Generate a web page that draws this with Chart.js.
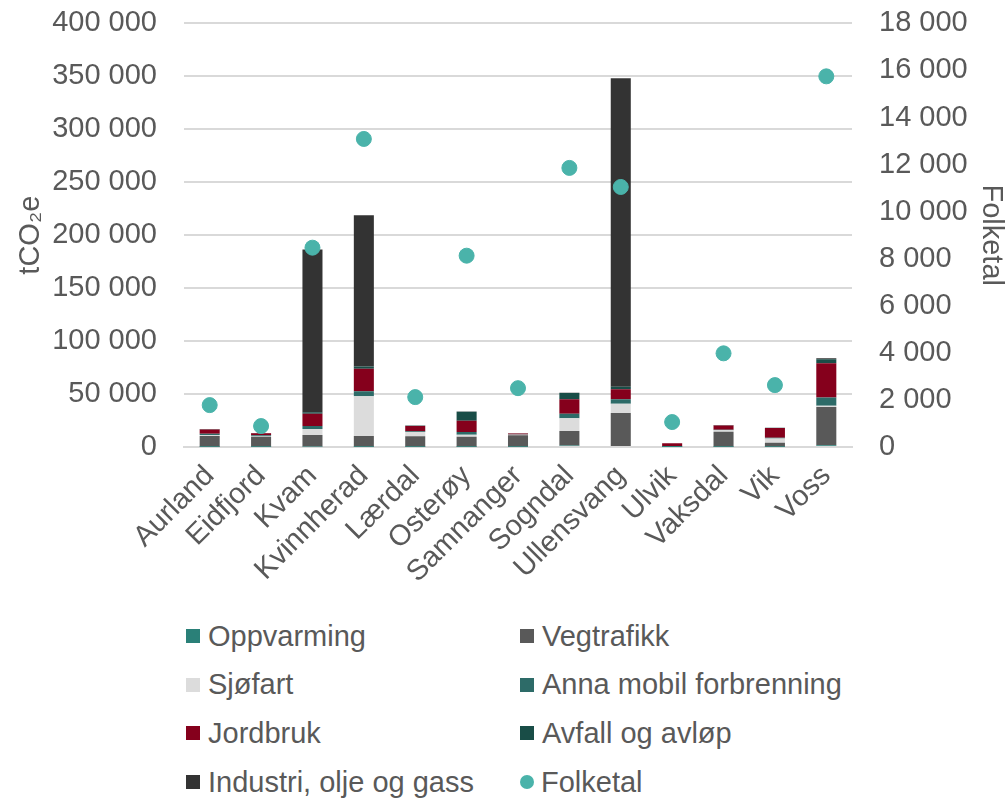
<!DOCTYPE html>
<html>
<head>
<meta charset="utf-8">
<script src="https://cdn.jsdelivr.net/npm/chart.js@4"></script>
<style>
  html, body { margin: 0; padding: 0; background: #fff; overflow: hidden; }
  #wrap { position: relative; width: 1008px; height: 798px; overflow: hidden; font-family: "Liberation Sans", Arial, sans-serif; color: #595959; }
  #chartBox { position: absolute; left: 0; top: -21px; width: 1008px; height: 631px; }
  #legend { position: absolute; left: 186px; top: 612px; display: grid; grid-template-columns: 334px 400px; grid-auto-rows: 48.6px; font-size: 29px; }
  .item { display: flex; align-items: center; white-space: nowrap; }
  .sw { width: 14px; height: 14px; margin-right: 8px; display: inline-block; flex: none; }
  .dot { width: 14px; height: 14px; border-radius: 50%; margin-right: 7px; display: inline-block; flex: none; }
</style>
</head>
<body>
<div id="wrap">
  <div id="chartBox"><canvas id="c"></canvas></div>
  <div id="legend"></div>
</div>
<script>
// Kommunar
const kommunar = ['Aurland', 'Eidfjord', 'Kvam', 'Kvinnherad', 'Lærdal', 'Osterøy', 'Samnanger', 'Sogndal', 'Ullensvang', 'Ulvik', 'Vaksdal', 'Vik', 'Voss'];

// Utslepp per sektor (tCO2e)
const oppvarming = [300, 200, 400, 300, 200, 300, 200, 1500, 1000, 100, 200, 200, 1600];
const vegtrafikk = [10000, 9500, 11000, 10000, 10000, 9400, 11000, 13500, 31000, 800, 14100, 3800, 36100];
const sjofart = [1000, 500, 5500, 37600, 4000, 1900, 300, 12200, 8800, 0, 1500, 4100, 1200];
const annaMobil = [1200, 800, 3000, 4700, 600, 2500, 200, 4100, 4400, 0, 500, 700, 7800];
const jordbruk = [4000, 2000, 11500, 21300, 5000, 10700, 1000, 13800, 9400, 2700, 4000, 9100, 32300];
const avfall = [300, 200, 1500, 2200, 300, 8500, 100, 6000, 2200, 0, 200, 200, 3800];
const industri = [200, 100, 153500, 142800, 100, 200, 100, 200, 291400, 0, 200, 100, 900];

// Folketal
const folketal = [1780, 890, 8470, 13090, 2120, 8130, 2500, 11860, 11050, 1060, 3980, 2630, 15750];

const TEXT = '#595959';
const FONT = "'Liberation Sans', Arial, sans-serif";
const SIZE = 29;
const fmt = v => String(v).replace(/\B(?=(\d{3})+(?!\d))/g, ' ');

const sektorar = [
  { label: 'Oppvarming', data: oppvarming, color: '#2a8078' },
  { label: 'Vegtrafikk', data: vegtrafikk, color: '#595959' },
  { label: 'Sjøfart', data: sjofart, color: '#dcdcdc' },
  { label: 'Anna mobil forbrenning', data: annaMobil, color: '#2d6b68' },
  { label: 'Jordbruk', data: jordbruk, color: '#85001c' },
  { label: 'Avfall og avløp', data: avfall, color: '#194d47' },
  { label: 'Industri, olje og gass', data: industri, color: '#333333' }
];

const datasets = sektorar.map(s => ({
  type: 'bar',
  label: s.label,
  data: s.data,
  backgroundColor: s.color,
  stack: 'utslepp',
  yAxisID: 'y',
  order: 2,
  barPercentage: 0.78,
  categoryPercentage: 0.5
}));

datasets.push({
  type: 'line',
  label: 'Folketal',
  data: folketal,
  yAxisID: 'y1',
  showLine: false,
  pointRadius: 7.5,
  pointBackgroundColor: '#4ab3aa',
  pointBorderColor: '#4ab3aa',
  order: 0
});

// Plotområde: venstre 184, høgre 852, topp 22, botn 447 (canvas flytta 21 px opp)
new Chart(document.getElementById('c'), {
  data: { labels: kommunar, datasets },
  options: {
    responsive: true,
    maintainAspectRatio: false,
    animation: false,
    layout: { padding: 0 },
    plugins: { legend: { display: false }, tooltip: { enabled: false } },
    scales: {
      x: {
        stacked: true,
        grid: { display: false },
        border: { color: '#d9d9d9', width: 2 },
        ticks: { color: TEXT, font: { family: FONT, size: SIZE }, minRotation: 45, maxRotation: 45, autoSkip: false, padding: 4 },
        afterFit: s => { s.height = 631 - 447 - 21; }
      },
      y: {
        stacked: true,
        position: 'left',
        min: 0, max: 400000,
        ticks: { stepSize: 50000, color: TEXT, font: { family: FONT, size: SIZE }, padding: 27, callback: v => fmt(v) },
        grid: { color: '#d9d9d9', lineWidth: 2, drawTicks: false },
        border: { display: false },
        title: { display: true, text: 'tCO₂e', color: TEXT, font: { family: FONT, size: SIZE }, padding: { top: 14, bottom: 0 } },
        afterFit: s => { s.width = 184; }
      },
      y1: {
        position: 'right',
        min: 0, max: 18000,
        ticks: { stepSize: 2000, color: TEXT, font: { family: FONT, size: SIZE }, padding: 27, callback: v => fmt(v) },
        grid: { display: false, drawTicks: false },
        border: { display: false },
        title: { display: true, text: 'Folketal', color: TEXT, font: { family: FONT, size: SIZE }, padding: { top: 0, bottom: 0 } },
        afterFit: s => { s.width = 1008 - 852; }
      }
    }
  }
});

// Forklaring
const legendItems = [
  ['Oppvarming', '#2a8078'], ['Vegtrafikk', '#595959'],
  ['Sjøfart', '#dcdcdc'], ['Anna mobil forbrenning', '#2d6b68'],
  ['Jordbruk', '#85001c'], ['Avfall og avløp', '#194d47'],
  ['Industri, olje og gass', '#333333'], ['Folketal', '#4ab3aa']
];
document.getElementById('legend').innerHTML = legendItems.map(([t, c]) => `
  <div class="item"><span class="${t === 'Folketal' ? 'dot' : 'sw'}" style="background:${c}"></span>${t}</div>
`).join('');
</script>
</body>
</html>
